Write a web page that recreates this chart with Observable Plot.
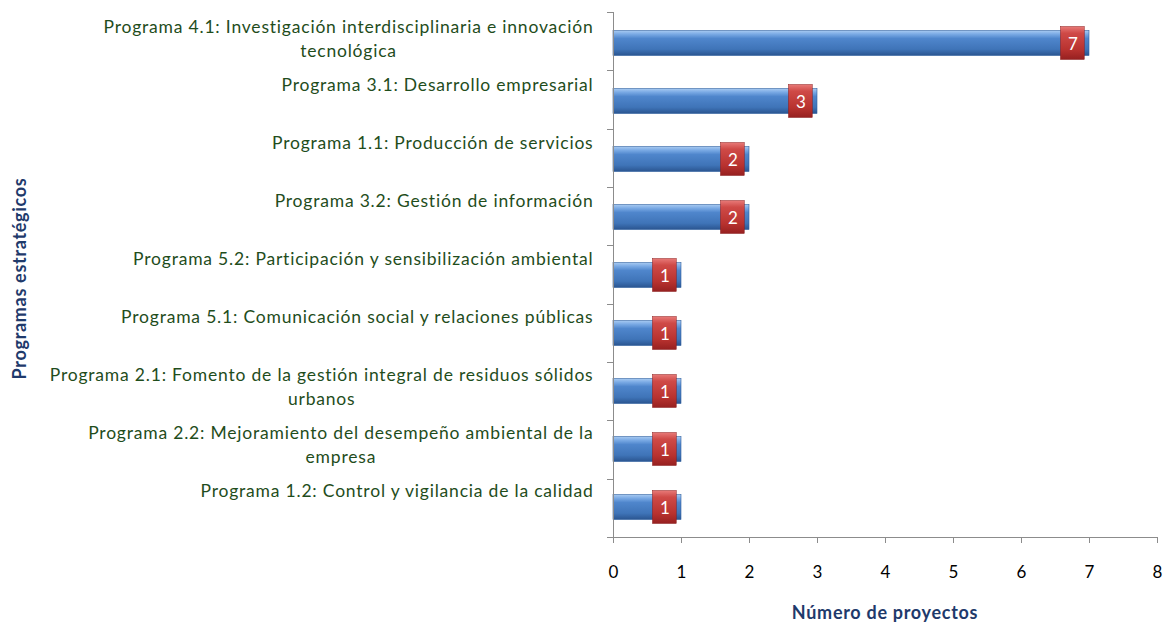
<!DOCTYPE html>
<html>
<head>
<meta charset="utf-8">
<script src="https://cdn.jsdelivr.net/npm/d3@7"></script>
<script src="https://cdn.jsdelivr.net/npm/@observablehq/plot@0.6"></script>
<style>
  html, body { margin: 0; padding: 0; background: #fff; }
  body { width: 1170px; height: 624px; overflow: hidden; }
</style>
</head>
<body>
<div id="chart"></div>
<script>
const programas = [
  "Programa 4.1: Investigación interdisciplinaria e innovación\ntecnológica",
  "Programa 3.1: Desarrollo empresarial\n",
  "Programa 1.1: Producción de servicios\n",
  "Programa 3.2: Gestión de información\n",
  "Programa 5.2: Participación y sensibilización ambiental\n",
  "Programa 5.1: Comunicación social y relaciones públicas\n",
  "Programa 2.1: Fomento de la gestión integral de residuos sólidos\nurbanos",
  "Programa 2.2: Mejoramiento del desempeño ambiental de la\nempresa",
  "Programa 1.2: Control y vigilancia de la calidad\n"
];
const proyectos = [7, 3, 2, 2, 1, 1, 1, 1, 1];
const xTicks = [0, 1, 2, 3, 4, 5, 6, 7, 8];
const xTitle = "Número de proyectos";
const yTitle = "Programas estratégicos";

const data = programas.map((p, i) => ({programa: p, n: proyectos[i]}));

const FONT = "Lato, 'Open Sans', sans-serif";
const NAVY = "#1f3a6b";
const GREEN = "#1f4d1c";

function defsMark() {
  const defs = d3.create("svg:defs");
  const gb = defs.append("linearGradient").attr("id", "gBlue").attr("x1", 0).attr("y1", 0).attr("x2", 0).attr("y2", 1);
  [[0, "#a9cbf2"], [0.15, "#79a9e4"], [0.32, "#4f86cc"], [0.75, "#3f74b8"], [1, "#2a5590"]]
    .forEach(([o, c]) => gb.append("stop").attr("offset", o).attr("stop-color", c));
  const gr = defs.append("linearGradient").attr("id", "gRed").attr("x1", 0).attr("y1", 0).attr("x2", 0).attr("y2", 1);
  [[0, "#e87a78"], [0.2, "#cf4a47"], [0.7, "#b8322f"], [1, "#962020"]]
    .forEach(([o, c]) => gr.append("stop").attr("offset", o).attr("stop-color", c));
  return defs.node();
}

function frameMark(index, scales, values, dimensions) {
  const {width, height, marginTop, marginBottom, marginLeft, marginRight} = dimensions;
  const g = d3.create("svg:g");
  const top = marginTop, bottom = height - marginBottom;
  const n = programas.length;
  const step = (bottom - top) / n;
  g.append("line").attr("x1", marginLeft + 0.5).attr("x2", marginLeft + 0.5)
    .attr("y1", top).attr("y2", bottom).attr("stroke", "#8c8c8c");
  g.append("line").attr("x1", marginLeft).attr("x2", width - marginRight)
    .attr("y1", bottom + 0.5).attr("y2", bottom + 0.5).attr("stroke", "#8c8c8c");
  for (let i = 0; i <= n; i++) {
    const y = Math.round(top + i * step) + 0.5;
    g.append("line").attr("x1", marginLeft - 6).attr("x2", marginLeft + 0.5)
      .attr("y1", y).attr("y2", y).attr("stroke", "#8c8c8c");
  }
  g.append("text").attr("transform", `translate(19,${(top + bottom) / 2 + 4}) rotate(-90)`)
    .attr("text-anchor", "middle").attr("dominant-baseline", "central")
    .attr("font-family", FONT).attr("font-weight", "bold").attr("font-size", 18)
    .attr("letter-spacing", 0.7)
    .attr("fill", NAVY).text(yTitle);
  g.append("text").attr("x", (marginLeft + width - marginRight) / 2).attr("y", 612)
    .attr("text-anchor", "middle").attr("dominant-baseline", "central")
    .attr("font-family", FONT).attr("font-weight", "bold").attr("font-size", 18)
    .attr("letter-spacing", 0.7)
    .attr("fill", NAVY).text(xTitle);
  return g.node();
}

const chart = Plot.plot({
  width: 1170,
  height: 624,
  marginLeft: 613,
  marginRight: 13,
  marginTop: 12,
  marginBottom: 87,
  style: {fontFamily: FONT, background: "#fff"},
  x: {domain: [0, 8], ticks: xTicks, label: null},
  y: {domain: programas, padding: 0, label: null},
  marks: [
    defsMark,
    Plot.barX(data, {
      y: "programa", x1: 0, x2: "n",
      fill: "url(#gBlue)", stroke: "#2f5f9e", strokeWidth: 0.6,
      insetTop: 16.5, insetBottom: 16.5,
      filter: d => d.n > 0
    }),
    Plot.rectX(data, {
      y: "programa", x1: d => d.n - 0.42, x2: d => d.n - 0.07,
      fill: "url(#gRed)", stroke: "#8a1c1c", strokeWidth: 0.5,
      insetTop: 12.5, insetBottom: 12.5,
      filter: d => d.n > 0
    }),
    Plot.text(data, {
      y: "programa", x: d => d.n - 0.245, text: d => String(d.n),
      fill: "white", fontSize: 17, dy: 1,
      filter: d => d.n > 0
    }),
    Plot.axisX({
      ticks: xTicks, tickSize: 6, tickPadding: 22, fontSize: 17,
      stroke: "#8c8c8c", color: "#000", label: null, tickFormat: d => String(d)
    }),
    Plot.axisY({
      tickSize: 0, tickPadding: 20, fontSize: 17.5, fill: GREEN,
      lineWidth: 1000, lineHeight: 1.35, label: null, textAnchor: "end", dy: -6
    }),
    frameMark
  ]
});

document.getElementById("chart").append(chart);
const svg = d3.select(chart);

svg.selectAll('g[aria-label="y-axis tick label"] text').each(function() {
  this.setAttribute("letter-spacing", "0.8");
  const tspans = Array.from(this.querySelectorAll("tspan"));
  if (tspans.length < 2) return;
  const widths = tspans.map(t => t.getComputedTextLength());
  const w = Math.max(...widths);
  tspans.forEach((t, i) => t.setAttribute("x", -(w - widths[i]) / 2));
});
</script>
</body>
</html>
